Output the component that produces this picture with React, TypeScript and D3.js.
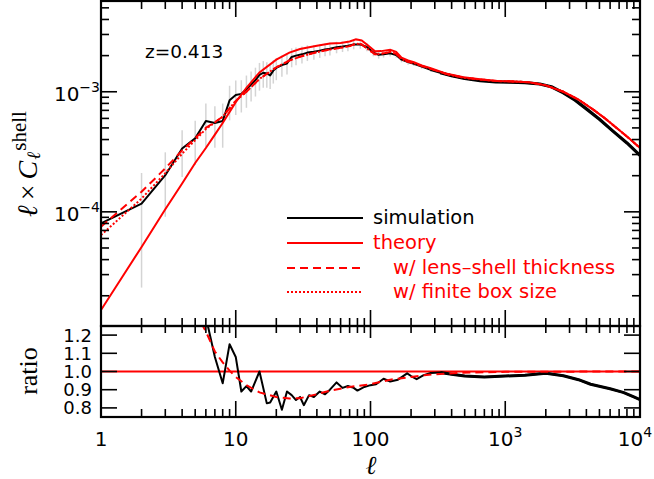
import React from "react";
import * as d3 from "d3";

// multipole grid for the theory curves
const ellTheory = [1, 2, 3, 4, 5, 6, 7, 8, 10, 12, 15, 20, 25, 30, 40, 50, 60, 70, 78, 86, 95, 108, 120, 140, 155, 170, 190, 210, 240, 280, 370, 490, 650, 870, 1150, 1500, 2000, 2700, 3500, 4500, 5500, 7000, 8500, 10000];
const theory = [1.52e-5, 5.1e-5, 1.05e-4, 1.72e-4, 2.55e-4, 3.4e-4, 4.4e-4, 5.5e-4, 8.2e-4, 1.08e-3, 1.45e-3, 1.85e-3, 2.12e-3, 2.27e-3, 2.42e-3, 2.52e-3, 2.55e-3, 2.62e-3, 2.73e-3, 2.68e-3, 2.45e-3, 2.17e-3, 2.18e-3, 2.24e-3, 2.15e-3, 1.92e-3, 1.82e-3, 1.76e-3, 1.66e-3, 1.57e-3, 1.41e-3, 1.32e-3, 1.27e-3, 1.23e-3, 1.22e-3, 1.2e-3, 1.13e-3, 1.0e-3, 8.6e-4, 7.1e-4, 6.0e-4, 4.8e-4, 4.0e-4, 3.4e-4];
const lensShell = [7.5e-5, 1.47e-4, 2.3e-4, 3.25e-4, 4.1e-4, 5.0e-4, 5.6e-4, 6.2e-4, 8.4e-4, 1.0e-3, 1.28e-3, 1.6e-3, 1.82e-3, 1.96e-3, 2.14e-3, 2.25e-3, 2.32e-3, 2.4e-3, 2.52e-3, 2.48e-3, 2.28e-3, 2.05e-3, 2.07e-3, 2.15e-3, 2.07e-3, 1.87e-3, 1.78e-3, 1.73e-3, 1.64e-3, 1.55e-3, 1.4e-3, 1.31e-3, 1.265e-3, 1.228e-3, 1.219e-3, 1.2e-3, 1.13e-3, 1.0e-3, 8.6e-4, 7.1e-4, 6.0e-4, 4.8e-4, 4.0e-4, 3.4e-4];
const finiteBox = [6.4e-5, 1.29e-4, 2.1e-4, 3.05e-4, 3.95e-4, 4.9e-4, 5.55e-4, 6.2e-4, 8.4e-4, 1.0e-3, 1.28e-3, 1.6e-3, 1.82e-3, 1.96e-3, 2.14e-3, 2.25e-3, 2.32e-3, 2.4e-3, 2.52e-3, 2.48e-3, 2.28e-3, 2.05e-3, 2.07e-3, 2.15e-3, 2.07e-3, 1.87e-3, 1.78e-3, 1.73e-3, 1.64e-3, 1.55e-3, 1.4e-3, 1.31e-3, 1.265e-3, 1.228e-3, 1.219e-3, 1.2e-3, 1.13e-3, 1.0e-3, 8.6e-4, 7.1e-4, 6.0e-4, 4.8e-4, 4.0e-4, 3.4e-4];

// simulation
const ellSim = [1, 2, 3, 4, 5, 6, 7, 8, 9, 10, 11, 12, 13, 14, 15, 16, 17, 18, 19, 20, 22, 24, 26, 28, 31, 34, 38, 42, 46, 50, 56, 62, 68, 75, 84, 94, 105, 115, 125, 140, 155, 170, 190, 210, 240, 280, 330, 400, 500, 650, 850, 1100, 1400, 1800, 2200, 2700, 3300, 4000, 5000, 6300, 8000, 10000];
const simulation = [8.0e-5, 1.17e-4, 2.02e-4, 3.37e-4, 4.09e-4, 5.7e-4, 5.5e-4, 5.7e-4, 8.5e-4, 9.4e-4, 9.6e-4, 1.05e-3, 1.15e-3, 1.25e-3, 1.38e-3, 1.44e-3, 1.42e-3, 1.37e-3, 1.5e-3, 1.58e-3, 1.67e-3, 1.72e-3, 1.95e-3, 2.0e-3, 2.05e-3, 2.12e-3, 2.15e-3, 2.2e-3, 2.25e-3, 2.28e-3, 2.35e-3, 2.38e-3, 2.42e-3, 2.48e-3, 2.48e-3, 2.36e-3, 2.12e-3, 2.03e-3, 2.05e-3, 2.09e-3, 2.02e-3, 1.85e-3, 1.77e-3, 1.71e-3, 1.62e-3, 1.52e-3, 1.44e-3, 1.36e-3, 1.29e-3, 1.24e-3, 1.21e-3, 1.2e-3, 1.19e-3, 1.16e-3, 1.1e-3, 9.8e-4, 8.5e-4, 7.2e-4, 5.9e-4, 4.7e-4, 3.75e-4, 2.95e-4];
const simError = [0.8, 0.8, 0.55, 0.42, 0.4, 0.4, 0.38, 0.4, 0.32, 0.32, 0.3, 0.3, 0.28, 0.27, 0.26, 0.25, 0.24, 0.23, 0.22, 0.21, 0.2, 0.19, 0.18, 0.17, 0.16, 0.15, 0.14, 0.13, 0.12, 0.12, 0.11, 0.1, 0.1, 0.09, 0.08, 0.08, 0.07, 0.07, 0.06, 0.06, 0.05, 0.05, 0.05, 0.04, 0.04, 0.035, 0.03, 0.03, 0.025, 0.02, 0.02, 0.015, 0.015, 0.01, 0.01, 0.01, 0.01, 0.01, 0.01, 0.01, 0.01, 0.01];

// ratio panel
const ellRatioSim = [6, 7, 8, 9, 10, 11, 12, 13, 15, 17, 18, 20, 22, 24, 26, 28, 30, 32, 35, 38, 42, 46, 50, 56, 62, 68, 75, 80, 90, 100, 110, 125, 140, 160, 187, 200, 220, 248, 280, 330, 400, 500, 700, 1000, 1400, 2000, 2700, 3500, 4300, 6000, 7500, 9000, 10000];
const ratioSim = [1.3, 1.08, 0.935, 1.15, 1.08, 0.89, 0.92, 0.89, 1.0, 0.825, 0.83, 0.89, 0.79, 0.89, 0.87, 0.843, 0.86, 0.815, 0.87, 0.86, 0.89, 0.875, 0.9, 0.94, 0.91, 0.92, 0.91, 0.895, 0.915, 0.925, 0.93, 0.96, 0.945, 0.955, 0.99, 0.975, 0.958, 0.98, 0.992, 0.995, 0.985, 0.975, 0.97, 0.975, 0.98, 0.99, 0.977, 0.955, 0.93, 0.905, 0.885, 0.86, 0.845];
const ellRatioLens = [5, 6, 7, 8, 9, 10, 12, 15, 20, 25, 30, 40, 50, 70, 100, 140, 200, 250, 350, 450, 700, 1000, 2000, 10000];
const ratioLens = [1.33, 1.22, 1.11, 1.05, 1.005, 0.97, 0.925, 0.885, 0.86, 0.852, 0.853, 0.875, 0.895, 0.915, 0.93, 0.955, 0.97, 0.98, 0.988, 0.992, 0.996, 0.998, 0.999, 1.0];

const xTicksMajor = [1, 10, 100, 1000, 10000];
const xTickLabels = [["1", ""], ["10", ""], ["100", ""], ["10", "3"], ["10", "4"]];
const yTicksMajor = [1e-4, 1e-3];
const yTickLabels = ["\u22124", "\u22123"];
const ratioTicks = [0.8, 0.9, 1.0, 1.1, 1.2];

const W = 654;
const H = 479;
const L = 101;
const R = 640;
const T = 1;
const MID = 326;
const B = 417;

const SANS = "'DejaVu Sans', Verdana, sans-serif";
const SERIF = "'Liberation Serif', 'DejaVu Serif', serif";

export default function App() {
  const x = d3.scaleLog().domain([1, 1e4]).range([L, R]);
  const y = d3.scaleLog().domain([1.12e-5, 5.7e-3]).range([MID, T]);
  const yr = d3.scaleLinear().domain([0.75, 1.25]).range([B, MID]);

  const lineTop = (xs: number[], ys: number[]) =>
    d3.line<number>().x((_, i) => x(xs[i])).y((d) => y(d))(ys) || "";
  const lineRatio = (xs: number[], ys: number[]) =>
    d3.line<number>().x((_, i) => x(xs[i])).y((d) => yr(d))(ys) || "";

  // noisy high-l part of the simulation looks thicker
  const hiIdx = ellSim.findIndex((l) => l >= 330);
  const hiIdxR = ellRatioSim.findIndex((l) => l >= 330);

  const minorX: number[] = [];
  for (let p = 0; p < 4; p++) for (let k = 2; k <= 9; k++) minorX.push(k * Math.pow(10, p));
  const minorY: number[] = [];
  for (let p = -5; p <= -3; p++)
    for (let k = 2; k <= 9; k++) {
      const v = k * Math.pow(10, p);
      if (v > 1.12e-5 && v < 5.7e-3) minorY.push(v);
    }

  const tk = { stroke: "#000", strokeWidth: 1.6 };

  return (
    <svg width={W} height={H} style={{ position: "absolute", left: 0, top: 0, background: "#fff" }}>
      <defs>
        <clipPath id="clipTop">
          <rect x={L} y={T} width={R - L} height={MID - T} />
        </clipPath>
        <clipPath id="clipBot">
          <rect x={L} y={MID} width={R - L} height={B - MID} />
        </clipPath>
      </defs>

      {/* top panel data */}
      <g clipPath="url(#clipTop)">
        {ellSim.map((l, i) => {
          const v = simulation[i];
          const e = simError[i];
          return (
            <line key={i} x1={x(l)} x2={x(l)} y1={y(v * (1 + e))} y2={y(Math.max(v * (1 - e), 1e-6))} stroke="#d4d4d4" strokeWidth={1.5} />
          );
        })}
        <path d={lineTop(ellSim, simulation)} fill="none" stroke="#000" strokeWidth={2} strokeLinejoin="round" />
        <path d={lineTop(ellSim.slice(hiIdx), simulation.slice(hiIdx))} fill="none" stroke="#000" strokeWidth={3.2} strokeLinejoin="round" />
        <path d={lineTop(ellTheory, theory)} fill="none" stroke="#ff0000" strokeWidth={2} />
        <path d={lineTop(ellTheory, lensShell)} fill="none" stroke="#ff0000" strokeWidth={2} strokeDasharray="8,5" />
        <path d={lineTop(ellTheory, finiteBox)} fill="none" stroke="#ff0000" strokeWidth={2} strokeDasharray="2,2" />
      </g>

      {/* ratio panel data */}
      <g clipPath="url(#clipBot)">
        <line x1={L} x2={R} y1={yr(1)} y2={yr(1)} stroke="#ff0000" strokeWidth={2} />
        <path d={lineRatio(ellRatioSim, ratioSim)} fill="none" stroke="#000" strokeWidth={2} strokeLinejoin="round" />
        <path d={lineRatio(ellRatioSim.slice(hiIdxR), ratioSim.slice(hiIdxR))} fill="none" stroke="#000" strokeWidth={3} strokeLinejoin="round" />
        <path d={lineRatio(ellRatioLens, ratioLens)} fill="none" stroke="#ff0000" strokeWidth={2} strokeDasharray="8,5" />
      </g>

      {/* frames */}
      <rect x={L} y={T} width={R - L} height={MID - T} fill="none" stroke="#000" strokeWidth={2.2} />
      <rect x={L} y={MID} width={R - L} height={B - MID} fill="none" stroke="#000" strokeWidth={2.2} />

      {/* x ticks */}
      {xTicksMajor.map((t) => (
        <g key={"xm" + t}>
          <line x1={x(t)} x2={x(t)} y1={T} y2={T + 16} {...tk} />
          <line x1={x(t)} x2={x(t)} y1={MID - 16} y2={MID + 12} {...tk} />
          <line x1={x(t)} x2={x(t)} y1={B} y2={B - 16} {...tk} />
        </g>
      ))}
      {minorX.map((t) => (
        <g key={"xn" + t}>
          <line x1={x(t)} x2={x(t)} y1={T} y2={T + 8} {...tk} />
          <line x1={x(t)} x2={x(t)} y1={MID - 8} y2={MID + 7} {...tk} />
          <line x1={x(t)} x2={x(t)} y1={B} y2={B - 8} {...tk} />
        </g>
      ))}

      {/* y ticks top */}
      {yTicksMajor.map((t) => (
        <g key={"ym" + t}>
          <line x1={L} x2={L + 16} y1={y(t)} y2={y(t)} {...tk} />
          <line x1={R} x2={R - 16} y1={y(t)} y2={y(t)} {...tk} />
        </g>
      ))}
      {minorY.map((t) => (
        <g key={"yn" + t}>
          <line x1={L} x2={L + 8} y1={y(t)} y2={y(t)} {...tk} />
          <line x1={R} x2={R - 8} y1={y(t)} y2={y(t)} {...tk} />
        </g>
      ))}
      {/* ratio ticks */}
      {ratioTicks.map((t) => (
        <g key={"r" + t}>
          <line x1={L} x2={L + 16} y1={yr(t)} y2={yr(t)} {...tk} />
          <line x1={R} x2={R - 16} y1={yr(t)} y2={yr(t)} {...tk} />
          <text x={92} y={yr(t) + 6.5} textAnchor="end" fontFamily={SANS} fontSize={18}>
            {t.toFixed(1)}
          </text>
        </g>
      ))}

      {/* y tick labels top */}
      {yTicksMajor.map((t, i) => (
        <text key={"yl" + t} x={100} y={y(t) + 9} textAnchor="end" fontFamily={SANS} fontSize={20}>
          10<tspan fontSize={14} dy={-9}>{yTickLabels[i]}</tspan>
        </text>
      ))}

      {/* x tick labels (the last one is kept inside the page) */}
      {xTicksMajor.map((t, i) => (
        <text key={"xl" + t} x={t === 1e4 ? R - 5 : x(t)} y={446} textAnchor="middle" fontFamily={SANS} fontSize={20}>
          {xTickLabels[i][0]}
          {xTickLabels[i][1] && (
            <tspan fontSize={14} dy={-9}>{xTickLabels[i][1]}</tspan>
          )}
        </text>
      ))}

      {/* axis titles */}
      <text x={371} y={474} textAnchor="middle" fontFamily={SERIF} fontStyle="italic" fontSize={26}>ℓ</text>
      <text transform="translate(37,164) rotate(-90)" textAnchor="middle" fontFamily={SERIF} fontSize={28}>
        <tspan fontStyle="italic">ℓ</tspan>
        <tspan dx={5}>×</tspan>
        <tspan dx={5} fontStyle="italic">C</tspan>
        <tspan fontStyle="italic" fontSize={19} dx={1} dy={3}>ℓ</tspan>
        <tspan fontSize={21} dx={1} dy={-14}>shell</tspan>
      </text>
      <text transform="translate(37,371) rotate(-90)" textAnchor="middle" fontFamily={SERIF} fontSize={26}>ratio</text>

      {/* annotation */}
      <text x={145} y={58} fontFamily={SANS} fontSize={18.5}>z=0.413</text>

      {/* legend */}
      <g fontFamily={SANS} fontSize={19.5}>
        <line x1={287} x2={363} y1={218} y2={218} stroke="#000" strokeWidth={2} />
        <text x={373} y={224}>simulation</text>
        <line x1={287} x2={363} y1={243} y2={243} stroke="#ff0000" strokeWidth={2} />
        <text x={373} y={249} fill="#ff0000">theory</text>
        <line x1={287} x2={363} y1={268} y2={268} stroke="#ff0000" strokeWidth={2} strokeDasharray="8,5" />
        <text x={393} y={274} fill="#ff0000">w/ lens–shell thickness</text>
        <line x1={287} x2={363} y1={292} y2={292} stroke="#ff0000" strokeWidth={2} strokeDasharray="2,2" />
        <text x={393} y={298} fill="#ff0000">w/ finite box size</text>
      </g>
    </svg>
  );
}
